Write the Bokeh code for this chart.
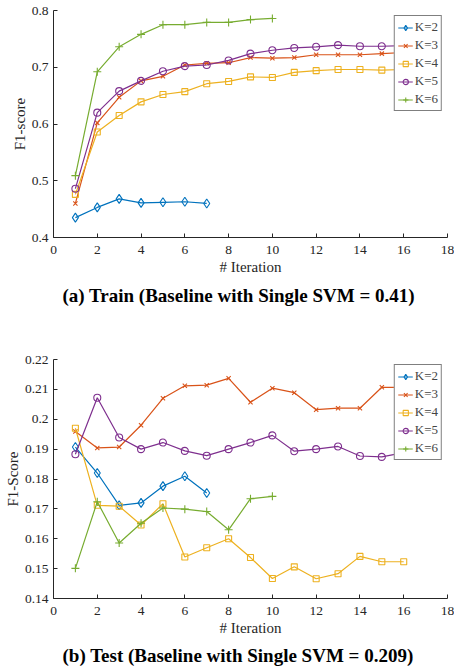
from bokeh.plotting import figure
from bokeh.models import Range1d, FixedTicker, Title, Legend, LegendItem
from bokeh.layouts import column
from bokeh.embed import file_html
from bokeh.resources import INLINE

labels = ["K=2", "K=3", "K=4", "K=5", "K=6"]
colors = ["#0072BD", "#D95319", "#EDB120", "#7E2F8E", "#77AC30"]
markers = ["diamond", "x", "square", "circle", "cross"]

# Train
train_k2_x = [1, 2, 3, 4, 5, 6, 7]
train_k2_y = [0.435, 0.453, 0.468, 0.461, 0.462, 0.463, 0.460]
train_k3_x = [1, 2, 3, 4, 5, 6, 7, 8, 9, 10, 11, 12, 13, 14, 15, 16]
train_k3_y = [0.460, 0.602, 0.647, 0.676, 0.684, 0.704, 0.707, 0.708, 0.717, 0.716,
              0.717, 0.722, 0.722, 0.722, 0.724, 0.726]
train_k4_x = [1, 2, 3, 4, 5, 6, 7, 8, 9, 10, 11, 12, 13, 14, 15, 16]
train_k4_y = [0.476, 0.586, 0.615, 0.639, 0.652, 0.657, 0.671, 0.675, 0.683, 0.682,
              0.691, 0.694, 0.696, 0.696, 0.695, 0.696]
train_k5_x = [1, 2, 3, 4, 5, 6, 7, 8, 9, 10, 11, 12, 13, 14, 15, 16]
train_k5_y = [0.486, 0.620, 0.658, 0.676, 0.693, 0.702, 0.704, 0.712, 0.724, 0.730,
              0.734, 0.736, 0.739, 0.737, 0.737, 0.738]
train_k6_x = [1, 2, 3, 4, 5, 6, 7, 8, 9, 10]
train_k6_y = [0.509, 0.692, 0.736, 0.758, 0.775, 0.775, 0.779, 0.779, 0.784, 0.786]

# Test
test_k2_x = [1, 2, 3, 4, 5, 6, 7]
test_k2_y = [0.1907, 0.1820, 0.1712, 0.1720, 0.1776, 0.1809, 0.1753]
test_k3_x = [1, 2, 3, 4, 5, 6, 7, 8, 9, 10, 11, 12, 13, 14, 15, 16]
test_k3_y = [0.1959, 0.1904, 0.1907, 0.1980, 0.2070, 0.2112, 0.2114, 0.2137, 0.2057,
             0.2104, 0.2089, 0.2032, 0.2037, 0.2037, 0.2107, 0.2107]
test_k4_x = [1, 2, 3, 4, 5, 6, 7, 8, 9, 10, 11, 12, 13, 14, 15, 16]
test_k4_y = [0.1970, 0.1712, 0.1709, 0.1646, 0.1717, 0.1539, 0.1570, 0.1600, 0.1537,
             0.1467, 0.1506, 0.1466, 0.1483, 0.1541, 0.1523, 0.1523]
test_k5_x = [1, 2, 3, 4, 5, 6, 7, 8, 9, 10, 11, 12, 13, 14, 15, 16, 17]
test_k5_y = [0.1883, 0.2072, 0.1939, 0.1900, 0.1922, 0.1894, 0.1878, 0.1900, 0.1922,
             0.1946, 0.1893, 0.1900, 0.1909, 0.1877, 0.1874, 0.1888, 0.1878]
test_k6_x = [1, 2, 3, 4, 5, 6, 7, 8, 9, 10]
test_k6_y = [0.1501, 0.1724, 0.1586, 0.1652, 0.1703, 0.1699, 0.1691, 0.1630, 0.1734, 0.1742]

x_ticks = [0, 2, 4, 6, 8, 10, 12, 14, 16, 18]
train_y_ticks = [0.4, 0.5, 0.6, 0.7, 0.8]
train_y_labels = ["0.4", "0.5", "0.6", "0.7", "0.8"]
test_y_ticks = [0.14, 0.15, 0.16, 0.17, 0.18, 0.19, 0.2, 0.21, 0.22]
test_y_labels = ["0.14", "0.15", "0.16", "0.17", "0.18", "0.19", "0.2", "0.21", "0.22"]

SERIF = "Liberation Serif"
AX = "#262626"


def make_fig(xs, ys, y0, y1, yticks, ylabels, ylabel, caption,
             border_top, frame_h, border_bottom, cap_standoff):
    p = figure(frame_width=394, frame_height=frame_h, output_backend="svg",
               toolbar_location=None, x_range=Range1d(0, 18), y_range=Range1d(y0, y1),
               min_border_left=53, min_border_right=7, min_border_top=border_top,
               min_border_bottom=border_bottom)
    p.outline_line_color = None
    p.xgrid.visible = False
    p.ygrid.visible = False
    p.background_fill_color = "white"
    for ax in (p.xaxis[0], p.yaxis[0]):
        ax.axis_line_color = AX
        ax.major_tick_line_color = AX
        ax.major_tick_in = 4
        ax.major_tick_out = 0
        ax.minor_tick_line_color = None
        ax.major_label_text_font = SERIF
        ax.major_label_text_font_size = "13.5px"
        ax.major_label_text_color = AX
        ax.axis_label_text_font = SERIF
        ax.axis_label_text_font_size = "15px"
        ax.axis_label_text_font_style = "normal"
        ax.axis_label_text_color = AX
    p.xaxis.axis_label_standoff = 2
    p.yaxis.axis_label_standoff = 1
    p.xaxis.major_label_standoff = 8
    p.yaxis.major_label_standoff = 5
    p.xaxis.ticker = FixedTicker(ticks=x_ticks)
    p.yaxis.ticker = FixedTicker(ticks=yticks)
    p.yaxis.major_label_overrides = {t: l for t, l in zip(yticks, ylabels)}
    p.xaxis.axis_label = "# Iteration"
    p.yaxis.axis_label = ylabel

    items = []
    sizes = {"diamond": 9, "x": 6, "square": 6, "circle": 7, "cross": 8}
    for x, y, lab, col, mk in zip(xs, ys, labels, colors, markers):
        lr = p.line(x, y, line_color=col, line_width=1.2)
        sr = p.scatter(x, y, marker=mk, size=sizes[mk], line_color=col, fill_alpha=0,
                       line_width=1.1)
        items.append(LegendItem(label=lab, renderers=[lr, sr]))
    leg = Legend(items=items, location="top_right", margin=5, padding=3, spacing=2,
                 label_text_font=SERIF, label_text_font_size="13px", label_height=13,
                 glyph_height=13, glyph_width=15, label_standoff=2,
                 border_line_color="black", border_line_width=1,
                 background_fill_alpha=1)
    p.add_layout(leg)
    p.add_layout(Title(text=caption, align="left", offset=9, text_font=SERIF,
                       text_font_size="19px", text_font_style="bold",
                       text_color="black", standoff=cap_standoff), "below")
    return p


p1 = make_fig([train_k2_x, train_k3_x, train_k4_x, train_k5_x, train_k6_x],
              [train_k2_y, train_k3_y, train_k4_y, train_k5_y, train_k6_y],
              0.4, 0.8, train_y_ticks, train_y_labels, "F1-score",
              "(a) Train (Baseline with Single SVM = 0.41)", 10, 227, 112, 10)
p2 = make_fig([test_k2_x, test_k3_x, test_k4_x, test_k5_x, test_k6_x],
              [test_k2_y, test_k3_y, test_k4_y, test_k5_y, test_k6_y],
              0.14, 0.22, test_y_ticks, test_y_labels, "F1-Score",
              "(b) Test (Baseline with Single SVM = 0.209)", 10, 239, 70, 8)

layout = column(p1, p2, spacing=0)
open("out.html", "w").write(file_html(layout, INLINE))
